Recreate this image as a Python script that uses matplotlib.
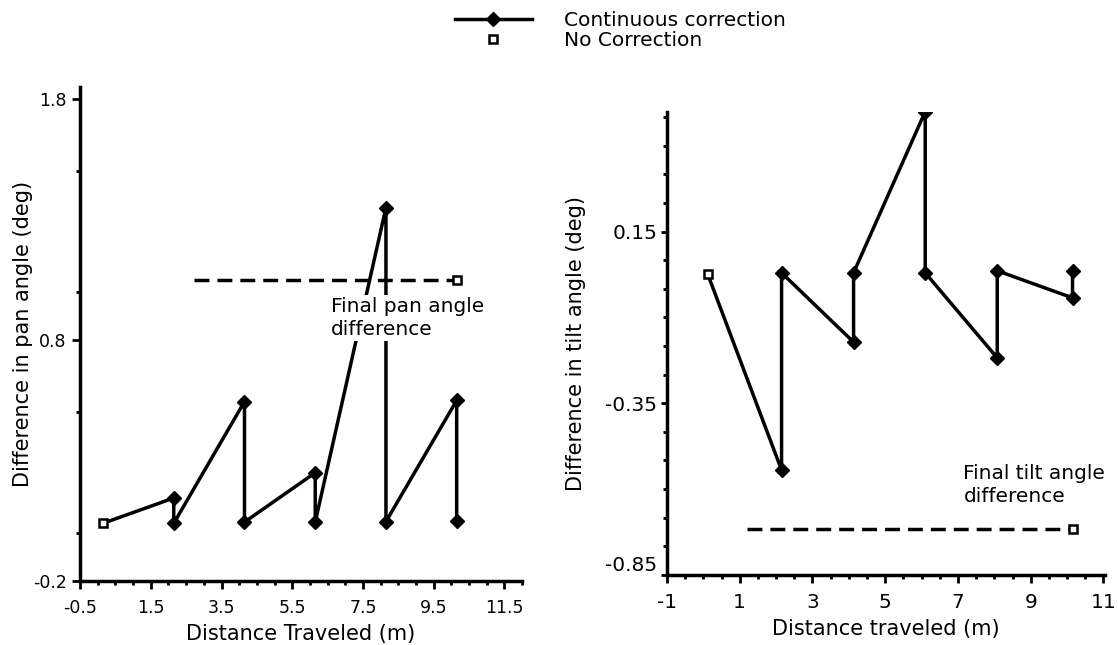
import matplotlib.pyplot as plt
from matplotlib.ticker import MultipleLocator, FixedLocator
import numpy as np

# left panel: pan angle difference
pan_x = [0.15, 2.15, 2.15, 4.15, 4.15, 6.15, 6.15, 8.15, 8.15, 10.15, 10.15]
pan_y = [0.04, 0.145, 0.04, 0.545, 0.045, 0.25, 0.045, 1.35, 0.047, 0.55, 0.05]
pan_nc_x = [2.73, 10.15]
pan_nc_y = [1.05, 1.05]

# right panel: tilt angle difference
tilt_x = [0.12, 2.15, 2.15, 4.13, 4.13, 6.1, 6.1, 8.08, 8.08, 10.15, 10.15]
tilt_y = [0.026, -0.545, 0.03, -0.172, 0.03, 0.5, 0.03, -0.218, 0.036, -0.043, 0.036]
tilt_nc_x = [1.19, 10.15]
tilt_nc_y = [-0.716, -0.716]

pan_xticks = [-0.5, 1.5, 3.5, 5.5, 7.5, 9.5, 11.5]
pan_yticks = [-0.2, 0.8, 1.8]
tilt_xticks = [-1, 1, 3, 5, 7, 9, 11]
tilt_yticks = [-0.85, -0.35, 0.15]

plt.rcParams['font.family'] = 'DejaVu Sans'
plt.rcParams['font.size'] = 14.5

fig = plt.figure(figsize=(11.18, 6.45), dpi=100)
ax1 = fig.add_axes([0.0716, 0.099, 0.3954, 0.766])
ax2 = fig.add_axes([0.5966, 0.109, 0.392, 0.718])

lw = 2.5
dash = (4.3, 2.3)


def draw(ax, x, y, ncx, ncy):
    line, = ax.plot(x, y, color='black', lw=lw, marker='D', ms=7,
                    markevery=list(range(1, len(x))), solid_joinstyle='miter')
    ax.plot(x[:1], y[:1], ls='none', marker='s', ms=6, mfc='white',
            mec='black', mew=1.8)
    ax.plot(ncx, ncy, color='black', lw=lw, dashes=dash)
    nc, = ax.plot(ncx[-1:], ncy[-1:], ls='none', marker='s', ms=6,
                  mfc='white', mec='black', mew=1.8)
    for s in ['top', 'right']:
        ax.spines[s].set_visible(False)
    for s in ['left', 'bottom']:
        ax.spines[s].set_linewidth(2.5)
    ax.tick_params(which='major', direction='out', length=6, width=2)
    ax.tick_params(which='minor', direction='out', length=3, width=2)
    return line, nc


line, nc = draw(ax1, pan_x, pan_y, pan_nc_x, pan_nc_y)
draw(ax2, tilt_x, tilt_y, tilt_nc_x, tilt_nc_y)

ax1.set_xlim(-0.5, 12)
ax1.set_ylim(-0.2, 1.85)
ax1.set_xticks(pan_xticks)
ax1.set_xticklabels([f'{v:g}' for v in pan_xticks])
ax1.set_yticks(pan_yticks)
ax1.set_yticklabels([f'{v:g}' for v in pan_yticks])
ax1.xaxis.set_minor_locator(MultipleLocator(0.5))
ax1.yaxis.set_minor_locator(MultipleLocator(0.5))
ax1.tick_params(labelsize=12.5)
ax1.tick_params(axis='x', which='major', pad=7)
ax1.set_xlabel('Distance Traveled (m)', fontsize=15, labelpad=5)
ax1.set_ylabel('Difference in pan angle (deg)', fontsize=15, labelpad=0)
ax1.text(6.59, 0.98, 'Final pan angle\ndifference', va='top', ha='left',
         linespacing=1.3, zorder=5,
         bbox=dict(fc='white', ec='none', pad=1))

ax2.set_xlim(-1, 11.05)
ax2.set_ylim(-0.85, 0.5)
ax2.set_xticks(tilt_xticks)
ax2.set_xticklabels([f'{v:g}' for v in tilt_xticks])
ax2.set_yticks(tilt_yticks)
ax2.set_yticklabels([f'{v:g}' for v in tilt_yticks])
ax2.xaxis.set_minor_locator(MultipleLocator(0.5))
ax2.yaxis.set_minor_locator(FixedLocator(-0.85 + np.arange(0, 17) * 0.5 / 6))
ax2.tick_params(labelsize=14.5)
ax2.tick_params(axis='y', which='major', length=4, pad=3)
ax2.tick_params(axis='x', which='major', pad=7)
ax2.set_xlabel('Distance traveled (m)', fontsize=15, labelpad=5)
ax2.set_ylabel('Difference in tilt angle (deg)', fontsize=15, labelpad=14)
ax2.text(7.15, -0.527, 'Final tilt angle\ndifference', va='top', ha='left',
         linespacing=1.3, zorder=5,
         bbox=dict(fc='white', ec='none', pad=1))
ax2.get_yticklabels()[0].set_verticalalignment('bottom')

fig.legend([line, nc], ['Continuous correction', 'No Correction'],
           loc='upper left', bbox_to_anchor=(0.398, 0.998), frameon=False,
           handlelength=3.8, handletextpad=1.6, labelspacing=0.05,
           borderpad=0, numpoints=1, markerfirst=True)

fig.savefig('out.png', dpi=100)
